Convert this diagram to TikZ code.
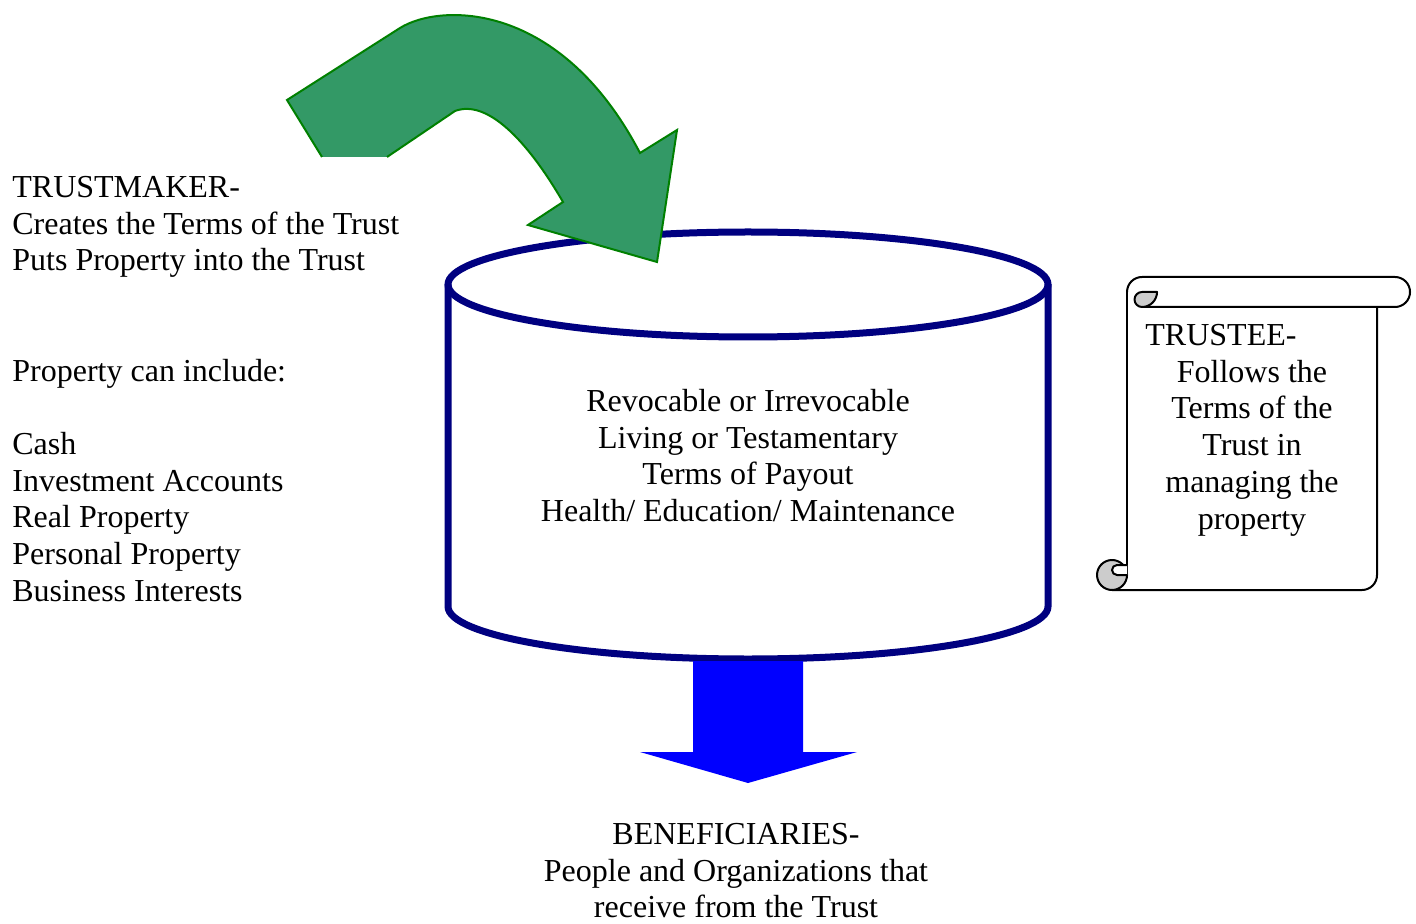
\documentclass[tikz,border=0pt]{standalone}
\usepackage{fontspec}
\setmainfont{Liberation Serif}
\definecolor{navyc}{RGB}{0,0,128}
\definecolor{greenfill}{RGB}{51,153,102}
\definecolor{greenline}{RGB}{0,128,0}
\definecolor{curlgray}{RGB}{204,204,204}
\definecolor{bluearrow}{RGB}{0,0,255}
\begin{document}
\begin{tikzpicture}[x=0.5pt,y=-0.5pt,
  txt/.style={inner sep=0pt,font=\fontsize{16pt}{18.35pt}\selectfont},
  lefttxt/.style={txt,anchor=base west},
  midtxt/.style={txt,anchor=base},
  cyl/.style={draw=navyc,line width=3.5pt},
  scrollline/.style={draw=black,line width=1pt,line join=round},
  curl/.style={scrollline,fill=curlgray}]
\useasboundingbox[fill=white] (0,0) rectangle (1416,924);

% ---- cylinder (the trust)
\draw[cyl] (448,284.5) -- (448,606.5) arc[start angle=180,end angle=0,x radius=300,y radius=52.5] -- (1048,284.5);
\draw[cyl] (748,284.5) ellipse[x radius=300,y radius=52.5];
\coordinate (cyltop) at (748,284.5);
\coordinate (cylbot) at (748,659);

% ---- curved green arrow into the trust
\fill[greenfill] (287,100) -- (400,28) .. controls (440,3) and (560,0) .. (640,153)
  -- (677,130) -- (657,262) -- (528,225) -- (563,202)
  .. controls (527,140) and (487,99) .. (455,111) -- (387,157) -- (322,157) -- cycle;
\draw[greenline,line width=1pt,line join=miter] (322,157) -- (287,100) -- (400,28) .. controls (440,3) and (560,0) .. (640,153)
  -- (677,130) -- (657,262) -- (528,225) -- (563,202)
  .. controls (527,140) and (487,99) .. (455,111) -- (387,157);

% ---- blue arrow out of the trust
\fill[bluearrow] (693,661) -- (803,661) -- (803,752) -- (857,752) -- (748,783) -- (640,752) -- (693,752) -- cycle;

% ---- scroll (trustee)
\draw[scrollline] (1127,292) -- (1127,575);
\draw[scrollline] (1112,590) -- (1362,590) arc[start angle=90,end angle=0,radius=15] -- (1377,307);
\draw[scrollline,fill=white] (1142,277) -- (1395,277) arc[start angle=-90,end angle=90,radius=15] -- (1142,307);
\draw[scrollline] (1127,292) arc[start angle=180,end angle=270,radius=15];
\draw[curl] (1142,292) -- (1157,292) arc[start angle=0,end angle=90,radius=15]
  arc[start angle=90,end angle=270,radius=7.5] -- cycle;
\draw[curl] (1112,575) circle[radius=15];
\draw[scrollline,fill=white] (1127,565) -- (1117,565) arc[start angle=-90,end angle=-270,radius=5] -- (1127,575);

% ---- left text
\node[lefttxt] (tm1) at (12,197.5) {TRUSTMAKER-};
\node[lefttxt] (tm2) at (12,234.2) {Creates the Terms of the Trust};
\node[lefttxt] (tm3) at (12,270.9) {Puts Property into the Trust};
\node[lefttxt] (pr0) at (12,381.0) {Property can include:};
\node[lefttxt] (pr1) at (12,454.4) {Cash};
\node[lefttxt] (pr2) at (12,491.1) {Investment Accounts};
\node[lefttxt] (pr3) at (12,527.8) {Real Property};
\node[lefttxt] (pr4) at (12,564.5) {Personal Property};
\node[lefttxt] (pr5) at (12,601.2) {Business Interests};

% ---- centre text
\node[midtxt] (c1) at (748,411.5) {Revocable or Irrevocable};
\node[midtxt] (c2) at (748,448.2) {Living or Testamentary};
\node[midtxt] (c3) at (748,484.9) {Terms of Payout};
\node[midtxt] (c4) at (748,521.6) {Health/ Education/ Maintenance};

% ---- trustee text
\node[lefttxt] (s0) at (1145,345.5) {TRUSTEE-};
\node[midtxt] (s1) at (1252,382.2) {Follows the};
\node[midtxt] (s2) at (1252,418.9) {Terms of the};
\node[midtxt] (s3) at (1252,455.6) {Trust in};
\node[midtxt] (s4) at (1252,492.3) {managing the};
\node[midtxt] (s5) at (1252,529.0) {property};

% ---- beneficiaries text
\node[midtxt] (b1) at (736,844.5) {BENEFICIARIES-};
\node[midtxt] (b2) at (736,881.2) {People and Organizations that};
\node[midtxt] (b3) at (736,917.9) {receive from the Trust};
\end{tikzpicture}
\end{document}
